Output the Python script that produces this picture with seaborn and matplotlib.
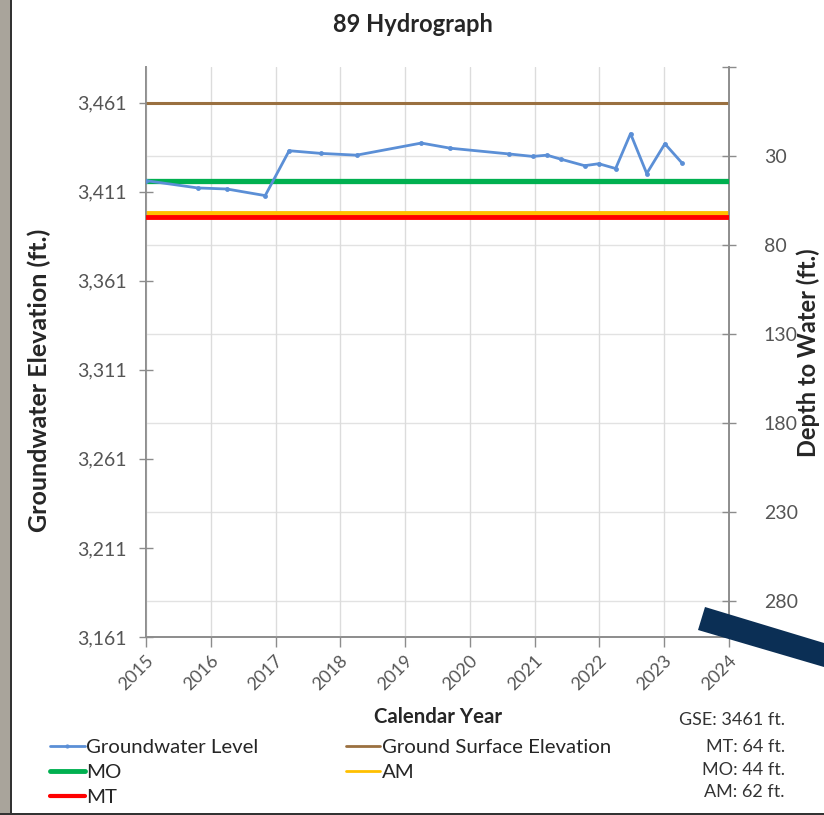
import matplotlib
matplotlib.use("Agg")
import matplotlib.pyplot as plt
import seaborn as sns
import pandas as pd
from matplotlib.lines import Line2D
from matplotlib.patches import Polygon, Rectangle
from matplotlib.transforms import ScaledTranslation

# ---- data ----
years = [2015.0, 2015.80, 2016.25, 2016.84, 2017.21, 2017.70, 2018.25, 2019.25,
         2019.70, 2020.60, 2020.97, 2021.19, 2021.40, 2021.77, 2021.99, 2022.25,
         2022.48, 2022.73, 2023.01, 2023.27]
elevation = [3417.2, 3413.1, 3412.5, 3408.8, 3434.0, 3432.5, 3431.5, 3438.3,
             3435.4, 3432.2, 3430.8, 3431.5, 3429.3, 3425.6, 3426.7, 3424.0,
             3443.6, 3421.2, 3437.9, 3427.3]
gse = 3461
mt_depth = 64
mo_depth = 44
am_depth = 62
x_ticks = list(range(2015, 2025))
left_ticks = [3161, 3211, 3261, 3311, 3361, 3411, 3461]
right_ticks = [30, 80, 130, 180, 230, 280]

df = pd.DataFrame({"Year": years, "Elevation": elevation})

sns.set_theme(style="white")
plt.rcParams["font.family"] = ["Lato", "DejaVu Sans"]

W, H = 824, 815
fig = plt.figure(figsize=(W / 100, H / 100), dpi=100)
ax = fig.add_axes([146 / W, 1 - 637 / H, 583 / W, 570 / H])

blue = "#5b8fd6"
brown = "#9a7040"
green = "#00b050"
red = "#ff0000"
yellow = "#ffc000"
tick_gray = "#555555"
spine_gray = "#8c8c8c"

# vertical grid
for xv in x_ticks:
    ax.axvline(xv, color="#dcdcdc", lw=1.0, zorder=0)

# threshold lines
ax.axhline(gse, color=brown, lw=2.2, zorder=2)
ax.axhline(gse - am_depth, color=yellow, lw=3.5, zorder=2)
ax.axhline(gse - mt_depth, color=red, lw=3.5, zorder=3)
ax.axhline(gse - mo_depth, color=green, lw=3.8, zorder=3)

sns.lineplot(data=df, x="Year", y="Elevation", ax=ax, color=blue, lw=2.0,
             marker="o", markersize=3.5, markeredgewidth=0, zorder=4)

ax.set_xlim(2015, 2024)
ax.set_ylim(3161, 3481)
ax.set_xticks(x_ticks)
ax.set_xticklabels([str(x) for x in x_ticks], rotation=45, ha="right",
                   va="center", rotation_mode="anchor")
ax.set_yticks(left_ticks)
ax.set_yticklabels([f"{v:,}" for v in left_ticks])
ax.tick_params(axis="x", direction="out", length=7, color=spine_gray, width=1,
               labelsize=13, labelcolor=tick_gray, pad=4, bottom=True)
ax.tick_params(axis="y", direction="inout", length=10, color=spine_gray, width=1,
               labelsize=14, labelcolor=tick_gray, pad=9, left=True)
shift = ScaledTranslation(5 / 100, -6 / 100, fig.dpi_scale_trans)
for lab in ax.get_xticklabels():
    lab.set_transform(lab.get_transform() + shift)
ax.set_xlabel("Calendar Year", fontsize=14.7, fontweight="bold")
ax.xaxis.set_label_coords(0.5, -0.122)
ax.set_ylabel("Groundwater Elevation (ft.)", fontsize=18, fontweight="bold",
              va="center")
ax.yaxis.set_label_coords(-0.1835, 0.451)
for s in ["left", "bottom", "right"]:
    ax.spines[s].set_color(spine_gray)
    ax.spines[s].set_linewidth(1.2)
ax.spines["top"].set_visible(False)

# right axis: depth to water
ax2 = ax.twinx()
ax2.set_ylim(gse - 3161, gse - 3481)
ax2.set_yticks([-20] + right_ticks)
ax2.set_yticklabels([""] + [str(v) for v in right_ticks])
for v in right_ticks:
    ax2.axhline(v, color="#e2e2e2", lw=1.0, zorder=0)
ax2.tick_params(axis="y", direction="inout", length=10, color=spine_gray, width=1,
                labelsize=14, labelcolor=tick_gray, pad=20, right=True)
ax2.set_ylabel("Depth to Water (ft.)", fontsize=17, fontweight="bold",
               va="center", rotation=90)
ax2.yaxis.set_label_coords(1.1355, 0.498)
ax2.grid(False)
for s in ["left", "bottom", "right"]:
    ax2.spines[s].set_color(spine_gray)
    ax2.spines[s].set_linewidth(1.2)
ax2.spines["top"].set_visible(False)
ax2.set_zorder(ax.get_zorder() - 1)
ax.patch.set_visible(False)

fig.text(413 / W, 1 - 25 / H, "89 Hydrograph", ha="center", va="center",
         fontsize=17, fontweight="bold")

# legend
handles = [
    Line2D([], [], color=blue, lw=2, marker="o", markersize=3, markeredgewidth=0),
    Line2D([], [], color=green, lw=3.5),
    Line2D([], [], color=red, lw=3),
    Line2D([], [], color=brown, lw=2),
    Line2D([], [], color=yellow, lw=2),
]
labels = ["Groundwater Level", "MO", "MT", "Ground Surface Elevation", "AM"]
fig.legend(handles, labels, loc="upper left", bbox_to_anchor=(50 / W, 1 - 739 / H),
           ncol=2, frameon=False, fontsize=14.7, handlelength=1.7,
           handletextpad=0.05, columnspacing=4.3, labelspacing=0.37,
           borderaxespad=0, borderpad=0)

# info text
info = [("GSE: 3461 ft.", 720), ("MT: 64 ft.", 747), ("MO: 44 ft.", 770),
        ("AM: 62 ft.", 792)]
for txt, yy in info:
    fig.text(785 / W, 1 - yy / H, txt, ha="right", va="center", fontsize=13,
             color="#333333")

# decorations: left strip and navy bar
fig.patches.append(Rectangle((0, 0), 10 / W, 1, transform=fig.transFigure,
                             facecolor="#a9a49b", edgecolor="none", zorder=0))
fig.patches.append(Rectangle((10 / W, 0), 1.5 / W, 1, transform=fig.transFigure,
                             facecolor="#333333", edgecolor="none", zorder=0))
fig.patches.append(Rectangle((0, 0), 1, 2 / H, transform=fig.transFigure,
                             facecolor="#333333", edgecolor="none", zorder=0))
bar = [(705, 607), (824, 643), (824, 667), (698, 630)]
fig.patches.append(Polygon([(x / W, 1 - y / H) for x, y in bar], closed=True,
                           transform=fig.transFigure, facecolor="#0b2f55",
                           edgecolor="none", zorder=5))

fig.savefig("out.png", dpi=100)
